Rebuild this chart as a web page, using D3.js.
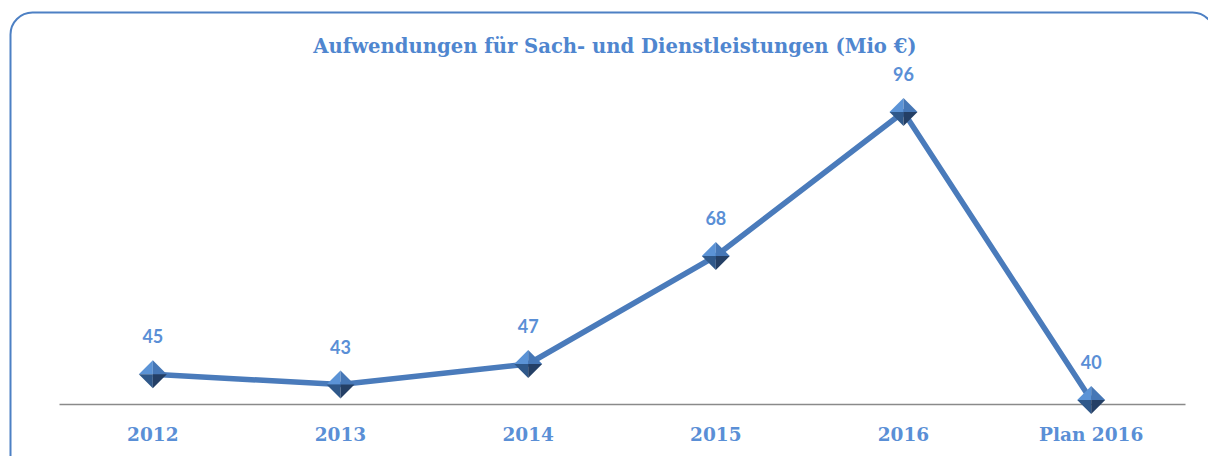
<!DOCTYPE html>
<html>
<head>
<meta charset="utf-8">
<script src="https://cdn.jsdelivr.net/npm/d3@7"></script>
<style>
  html, body { margin: 0; padding: 0; background: #fff; }
  svg { display: block; }
</style>
</head>
<body>
<div id="chart"></div>
<script>
// data
var categories = ['2012', '2013', '2014', '2015', '2016', 'Plan 2016'];
var values = [45, 43, 47, 68, 96, 40];
var title = 'Aufwendungen für Sach- und Dienstleistungen (Mio €)';

var width = 1208, height = 456;
var blue = '#5a8fd6';

var svg = d3.select('#chart').append('svg')
  .attr('width', width)
  .attr('height', height);

// rounded frame
svg.append('rect')
  .attr('x', 10.5).attr('y', 12.5)
  .attr('width', 1204).attr('height', 470)
  .attr('rx', 22).attr('ry', 22)
  .attr('fill', 'none')
  .attr('stroke', '#4d80c4')
  .attr('stroke-width', 2);

svg.append('text')
  .attr('x', 615).attr('y', 53)
  .attr('text-anchor', 'middle')
  .attr('font-family', 'DejaVu Serif')
  .attr('font-weight', 'bold')
  .attr('font-size', 19.6)
  .attr('fill', '#4f86cf')
  .text(title);

var x = d3.scaleBand()
  .domain(categories)
  .range([59, 1185]);

var y = d3.scaleLinear()
  .domain([40, 96])
  .range([400, 112]);

var axisY = 404;

// category axis
var xAxis = d3.axisBottom(x).tickSize(0).tickPadding(0);
var gx = svg.append('g')
  .attr('transform', 'translate(0,' + axisY + ')')
  .call(xAxis);
gx.select('.domain')
  .attr('stroke', '#8a8a8a')
  .attr('stroke-width', 1.5);
gx.selectAll('.tick text')
  .attr('dy', null)
  .attr('y', 37)
  .attr('font-family', 'DejaVu Serif')
  .attr('font-weight', 'bold')
  .attr('font-size', 18.5)
  .attr('fill', blue);

function cx(d, i) { return x(categories[i]) + x.bandwidth() / 2; }

var line = d3.line()
  .x(function(d, i) { return cx(d, i); })
  .y(function(d) { return y(d); });

svg.append('path')
  .datum(values)
  .attr('d', line)
  .attr('fill', 'none')
  .attr('stroke', '#4a7bbb')
  .attr('stroke-width', 5.5)
  .attr('stroke-linejoin', 'round');

// diamond markers with four shaded facets
var r = 14;
var facets = [
  { pts: [[-r, 0], [0, -r], [0, 0]], fill: '#5b93d6' },
  { pts: [[0, -r], [r, 0], [0, 0]], fill: '#4677b6' },
  { pts: [[-r, 0], [0, r], [0, 0]], fill: '#2f588a' },
  { pts: [[0, r], [r, 0], [0, 0]], fill: '#243f65' }
];

var markers = svg.selectAll('.marker')
  .data(values)
  .enter().append('g')
  .attr('class', 'marker')
  .attr('transform', function(d, i) {
    return 'translate(' + cx(d, i) + ',' + y(d) + ')';
  });

markers.selectAll('path')
  .data(facets)
  .enter().append('path')
  .attr('d', function(f) { return 'M' + f.pts.join('L') + 'Z'; })
  .attr('fill', function(f) { return f.fill; });

// value labels
svg.selectAll('.val')
  .data(values)
  .enter().append('text')
  .attr('class', 'val')
  .attr('x', function(d, i) { return cx(d, i); })
  .attr('y', function(d) { return y(d) - 31; })
  .attr('text-anchor', 'middle')
  .attr('font-family', 'Lato')
  .attr('font-weight', 'bold')
  .attr('font-size', 18)
  .attr('fill', blue)
  .text(function(d) { return d; });
</script>
</body>
</html>
